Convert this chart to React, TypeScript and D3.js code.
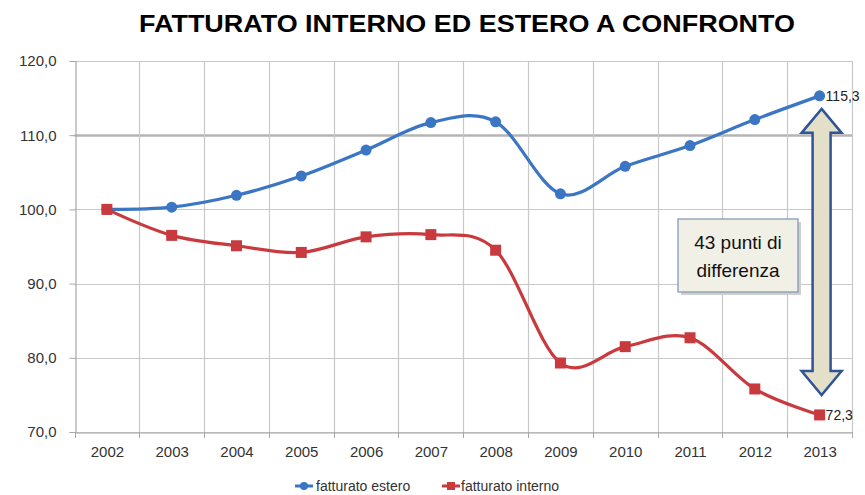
import React, { useEffect, useRef } from 'react';
import * as d3 from 'd3';

const years = ['2002', '2003', '2004', '2005', '2006', '2007', '2008', '2009', '2010', '2011', '2012', '2013'];
const estero = [100.0, 100.3, 101.9, 104.5, 108.0, 111.7, 111.8, 102.1, 105.8, 108.6, 112.1, 115.3];
const interno = [100.0, 96.5, 95.1, 94.2, 96.3, 96.6, 94.5, 79.3, 81.5, 82.7, 75.8, 72.3];
const yTicks = [70, 80, 90, 100, 110, 120];
const seriesNames = ['fatturato estero', 'fatturato interno'];
const title = 'FATTURATO INTERNO ED ESTERO A CONFRONTO';
const noteLines = ['43 punti di', 'differenza'];

const BLUE = '#3b76c4';
const RED = '#c93a3f';

const it = (v: number) => d3.format('.1f')(v).replace('.', ',');

const App: React.FC = () => {
  const ref = useRef<SVGSVGElement>(null);

  useEffect(() => {
    const width = 865;
    const height = 495;
    const svg = d3.select(ref.current)
                  .attr('width', width)
                  .attr('height', height)
                  .style('position', 'absolute')
                  .style('left', '0px')
                  .style('top', '0px')
                  .style('font-family', 'Arial, "Liberation Sans", sans-serif');

    svg.selectAll('*').remove();

    const left = 74.5, right = 852, top = 61, bottom = 432;

    // scales
    const band = d3.scaleBand().domain(years).range([left, right]);
    const x = d3.scalePoint().domain(years).range([left, right]).padding(0.5);
    const y = d3.scaleLinear().domain([70, 120]).range([bottom, top]);

    // title
    svg.append('text')
       .attr('x', 467)
       .attr('y', 32)
       .attr('text-anchor', 'middle')
       .attr('font-weight', 'bold')
       .attr('font-size', 23)
       .attr('textLength', 656)
       .attr('lengthAdjust', 'spacingAndGlyphs')
       .attr('fill', '#000')
       .text(title);

    // horizontal grid
    svg.append('g')
       .selectAll('line')
       .data(yTicks)
       .join('line')
       .attr('x1', left)
       .attr('x2', right)
       .attr('y1', d => Math.round(y(d)) + 0.5)
       .attr('y2', d => Math.round(y(d)) + 0.5)
       .attr('stroke', d => (d === 110 ? '#b4b4b4' : '#c8c8c8'))
       .attr('stroke-width', d => (d === 110 ? 2.5 : 1));

    // vertical grid at category boundaries
    const bounds = years.slice(1).map(d => band(d) as number).concat([right]);
    svg.append('g')
       .selectAll('line')
       .data(bounds)
       .join('line')
       .attr('x1', d => Math.round(d) + 0.5)
       .attr('x2', d => Math.round(d) + 0.5)
       .attr('y1', top)
       .attr('y2', bottom)
       .attr('stroke', '#c8c8c8')
       .attr('stroke-width', 1.2);

    // y axis
    const yAxis = svg.append('g')
       .attr('transform', `translate(${Math.round(left) + 0.5},0)`)
       .call(d3.axisLeft(y).tickValues(yTicks).tickSize(6).tickFormat(d => it(d as number)));
    yAxis.select('.domain').attr('stroke', '#a8a8a8').attr('stroke-width', 1.2);
    yAxis.selectAll('.tick line').attr('stroke', '#a8a8a8');
    yAxis.selectAll('.tick text')
         .attr('x', -19)
         .attr('font-size', 15)
         .attr('font-family', 'Arial, "Liberation Sans", sans-serif')
         .attr('fill', '#333');

    // x axis
    const xAxis = svg.append('g')
       .attr('transform', `translate(0,${Math.round(bottom) + 0.5})`)
       .call(d3.axisBottom(x).tickSize(0));
    xAxis.select('.domain').attr('stroke', '#a8a8a8').attr('stroke-width', 1.2);
    xAxis.selectAll('.tick text')
         .attr('y', 14)
         .attr('font-size', 15)
         .attr('font-family', 'Arial, "Liberation Sans", sans-serif')
         .attr('fill', '#333');
    svg.append('g')
       .selectAll('line')
       .data([left, ...bounds])
       .join('line')
       .attr('x1', d => Math.round(d) + 0.5)
       .attr('x2', d => Math.round(d) + 0.5)
       .attr('y1', bottom)
       .attr('y2', bottom + 6)
       .attr('stroke', '#a8a8a8');

    // lines
    const line = d3.line<number>()
                   .x((d, i) => x(years[i]) as number)
                   .y(d => y(d))
                   .curve(d3.curveCardinal.tension(0));

    svg.append('path')
       .datum(estero)
       .attr('fill', 'none')
       .attr('stroke', BLUE)
       .attr('stroke-width', 3.2)
       .attr('d', line);

    svg.append('path')
       .datum(interno)
       .attr('fill', 'none')
       .attr('stroke', RED)
       .attr('stroke-width', 3.2)
       .attr('d', line);

    svg.append('g')
       .selectAll('circle')
       .data(estero)
       .join('circle')
       .attr('cx', (d, i) => x(years[i]) as number)
       .attr('cy', d => y(d))
       .attr('r', 5.5)
       .attr('fill', BLUE);

    svg.append('g')
       .selectAll('rect')
       .data(interno)
       .join('rect')
       .attr('x', (d, i) => (x(years[i]) as number) - 5.5)
       .attr('y', d => y(d) - 5.5)
       .attr('width', 11)
       .attr('height', 11)
       .attr('fill', RED);

    // end labels
    const last = years.length - 1;
    [estero[last], interno[last]].forEach(v => {
      svg.append('text')
         .attr('x', (x(years[last]) as number) + 6)
         .attr('y', y(v) + 5)
         .attr('font-size', 14)
         .attr('fill', '#222')
         .text(it(v));
    });

    // double arrow between the two end values
    const ax = x(years[last]) as number + 2;
    const yTop = y(estero[last]) + 13;
    const yBot = y(interno[last]) - 20;
    const sw = 9, hw = 20, hh = 24;
    const arrow = [
      [ax, yTop], [ax + hw, yTop + hh], [ax + sw, yTop + hh],
      [ax + sw, yBot - hh], [ax + hw, yBot - hh], [ax, yBot],
      [ax - hw, yBot - hh], [ax - sw, yBot - hh], [ax - sw, yTop + hh],
      [ax - hw, yTop + hh]
    ];
    svg.append('path')
       .attr('d', 'M' + arrow.map(p => p.join(',')).join('L') + 'Z')
       .attr('fill', '#e4dfc9')
       .attr('stroke', '#2f5597')
       .attr('stroke-width', 2.5)
       .attr('stroke-linejoin', 'miter');

    // note box
    const bx = 678, by = 219, bw = 120, bh = 73;
    svg.append('rect')
       .attr('x', bx + 3).attr('y', by + 3)
       .attr('width', bw).attr('height', bh)
       .attr('fill', '#cfcfcf');
    svg.append('rect')
       .attr('x', bx).attr('y', by)
       .attr('width', bw).attr('height', bh)
       .attr('fill', '#f1f0e6')
       .attr('stroke', '#7f93b5')
       .attr('stroke-width', 1.2);
    noteLines.forEach((t, i) => {
      svg.append('text')
         .attr('x', bx + bw / 2)
         .attr('y', by + 30 + i * 28)
         .attr('text-anchor', 'middle')
         .attr('font-size', 19)
         .attr('fill', '#111')
         .text(t);
    });

    // legend
    const legend = [
      { name: seriesNames[0], color: BLUE, mx: 304, tx: 316 },
      { name: seriesNames[1], color: RED, mx: 451, tx: 461 }
    ];
    const ly = 486;
    legend.forEach(l => {
      svg.append('line')
         .attr('x1', l.mx - 9).attr('x2', l.mx + 9)
         .attr('y1', ly).attr('y2', ly)
         .attr('stroke', l.color)
         .attr('stroke-width', 3);
      if (l.color === BLUE) {
        svg.append('circle').attr('cx', l.mx).attr('cy', ly).attr('r', 4).attr('fill', l.color);
      } else {
        svg.append('rect').attr('x', l.mx - 4).attr('y', ly - 4).attr('width', 8).attr('height', 8).attr('fill', l.color);
      }
      svg.append('text')
         .attr('x', l.tx)
         .attr('y', ly + 5)
         .attr('font-size', 14)
         .attr('fill', '#333')
         .text(l.name);
    });
  }, []);

  return <svg ref={ref}></svg>;
};

export default App;
